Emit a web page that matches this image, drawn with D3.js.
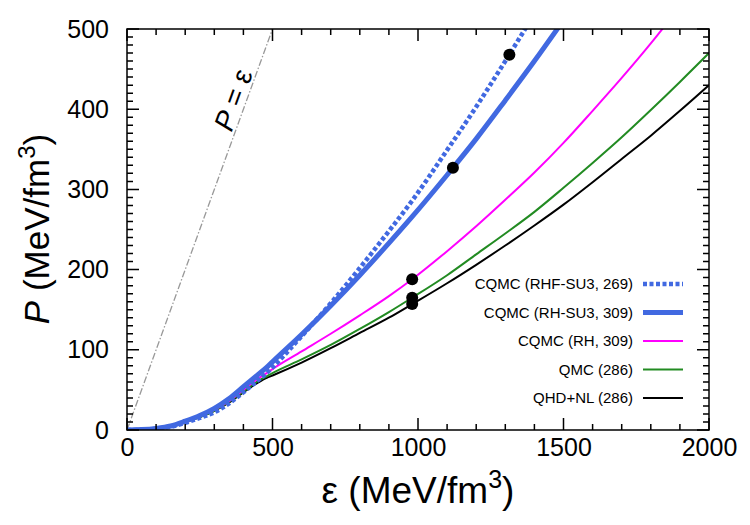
<!DOCTYPE html>
<html>
<head>
<meta charset="utf-8">
<script src="https://cdn.jsdelivr.net/npm/d3@7"></script>
<style>
  body { margin: 0; background: #fff; }
  text { font-family: "Liberation Sans", Arial, sans-serif; }
</style>
</head>
<body>
<div id="chart-area"></div>
<script>
// energy density grid (MeV/fm^3)
var eps = [0, 50, 100, 150, 200, 250, 300, 350, 400, 450, 480, 500, 600, 700, 800, 900, 980,
           1100, 1200, 1300, 1400, 1500, 1600, 1700, 1800, 1900, 2000];

// pressure (MeV/fm^3), one array per model
var pRHFSU3 = [0, 0.4, 1.5, 4, 9, 15, 22, 33, 47, 62, 71, 78, 117, 158, 202, 248, 286,
               349, 403, 460, 519, null, null, null, null, null, null];
var pRHSU3  = [0, 0.5, 2, 5, 11, 18, 27, 39, 54, 69, 78, 85, 119, 155, 193, 233, 266,
               318, 363, 411, 460, 511, null, null, null, null, null];
var pRH     = [0, 0.5, 2, 5, 10, 17, 25, 36, 50, 64, 71, 76, 98, 120, 143, 167, 188,
               223, 254, 287, 321, 358, 398, 439, 482, 528, null];
var pQMC    = [0, 0.5, 2, 5, 10, 16, 24, 35, 48, 61, 67, 71, 88, 106, 126, 147, 165,
               193, 219, 245, 272, 302, 333, 365, 399, 434, 470];
var pQHD    = [0, 0.5, 2, 5, 10, 16, 24, 34, 47, 59, 65, 68, 84, 102, 121, 140, 157,
               183, 206, 230, 255, 281, 309, 338, 367, 398, 430];

var seriesNames = ["CQMC (RHF-SU3, 269)", "CQMC (RH-SU3, 309)", "CQMC (RH, 309)", "QMC (286)", "QHD+NL (286)"];
var seriesColors = ["#4169e1", "#4169e1", "#ff00ff", "#228b22", "#000000"];
var seriesWidths = [4.5, 5, 2, 2, 2];
var seriesDash = ["4,2.5", null, null, null, null];
var seriesValues = [pRHFSU3, pRHSU3, pRH, pQMC, pQHD];

// marked points (eps, P)
var dotEps = [1314, 1120, 980, 980, 980];
var dotP   = [468, 327, 188, 165, 157];

var xMajor = [0, 500, 1000, 1500, 2000];
var yMajor = [0, 100, 200, 300, 400, 500];

var margin = { left: 127, right: 41, top: 29, bottom: 95 };
var width = 750 - margin.left - margin.right,
    height = 525 - margin.top - margin.bottom;

var svg = d3.select("#chart-area")
    .append("svg")
        .attr("width", 750)
        .attr("height", 525);

var g = svg.append("g")
    .attr("transform", "translate(" + margin.left + "," + margin.top + ")");

var x = d3.scaleLinear().domain([0, 2000]).range([0, width]);
var y = d3.scaleLinear().domain([0, 500]).range([height, 0]);

svg.append("defs").append("clipPath").attr("id", "plotclip")
  .append("rect").attr("width", width).attr("height", height);

// labelled axes (no tick lines, those are drawn separately)
var xAxisGroup = g.append("g").attr("class", "axis")
    .attr("transform", "translate(0," + height + ")")
    .call(d3.axisBottom(x).tickValues(xMajor).tickFormat(d3.format("d")).tickSize(0).tickPadding(8));
var yAxisGroup = g.append("g").attr("class", "axis")
    .call(d3.axisLeft(y).tickValues(yMajor).tickFormat(d3.format("d")).tickSize(0).tickPadding(18));

g.selectAll(".axis .domain").remove();
g.selectAll(".axis text")
    .attr("font-family", "Liberation Sans, Arial, sans-serif")
    .attr("font-size", "25px")
    .attr("fill", "#000");

// P = eps diagonal
g.append("line")
    .attr("x1", x(0)).attr("y1", y(0))
    .attr("x2", x(500)).attr("y2", y(500))
    .attr("stroke", "#999")
    .attr("stroke-width", 1.3)
    .attr("stroke-dasharray", "7,2,1.5,2");

var ang = Math.atan2(y(0) - y(500), x(500) - x(0)) * 180 / Math.PI;
var diagLabel = g.append("text")
    .attr("transform", "translate(" + (x(410) - 4) + "," + (y(410) + 2) + ") rotate(" + (-ang) + ")")
    .attr("text-anchor", "middle")
    .attr("font-size", "28px");
diagLabel.append("tspan").attr("font-style", "italic").text("P");
diagLabel.append("tspan").text(" = ε");

// curves
var line = d3.line()
    .defined(function(d){ return d[1] !== null; })
    .x(function(d){ return x(d[0]); })
    .y(function(d){ return y(d[1]); })
    .curve(d3.curveMonotoneX);

var curves = g.append("g").attr("clip-path", "url(#plotclip)");
// draw thin ones first, blue on top
[4, 3, 2, 1, 0].forEach(function(i) {
    var pts = eps.map(function(e, j){ return [e, seriesValues[i][j]]; });
    curves.append("path")
        .attr("d", line(pts))
        .attr("fill", "none")
        .attr("stroke", seriesColors[i])
        .attr("stroke-width", seriesWidths[i])
        .attr("stroke-dasharray", seriesDash[i]);
});

// dots
g.selectAll(".dot")
    .data(dotEps)
    .enter().append("circle")
        .attr("class", "dot")
        .attr("cx", function(d){ return x(d); })
        .attr("cy", function(d, i){ return y(dotP[i]); })
        .attr("r", 6)
        .attr("fill", "#000");

// frame
g.append("rect")
    .attr("width", width).attr("height", height)
    .attr("fill", "none").attr("stroke", "#000").attr("stroke-width", 1.5);

// tick marks, pointing inward on all four sides, as one path
var tickPath = d3.path();
d3.range(0, 2001, 100).forEach(function(v) {
    var L = (v % 500 === 0) ? 12 : 6;
    tickPath.moveTo(x(v), height); tickPath.lineTo(x(v), height - L);
    tickPath.moveTo(x(v), 0);      tickPath.lineTo(x(v), L);
});
d3.range(0, 501, 10).forEach(function(v) {
    var L = (v % 100 === 0) ? 12 : 6;
    tickPath.moveTo(0, y(v));     tickPath.lineTo(L, y(v));
    tickPath.moveTo(width, y(v)); tickPath.lineTo(width - L, y(v));
});
g.append("path")
    .attr("d", tickPath.toString())
    .attr("fill", "none")
    .attr("stroke", "#000")
    .attr("stroke-width", 1.5);

// legend
var legend = g.append("g")
    .attr("transform", "translate(" + (643 - margin.left) + "," + (284 - margin.top) + ")");
seriesNames.forEach(function(name, i) {
    var row = legend.append("g").attr("transform", "translate(0," + (i * 28.5) + ")");
    row.append("text")
        .attr("x", -10).attr("y", 0).attr("dy", "0.35em")
        .attr("text-anchor", "end")
        .attr("font-size", "15px")
        .text(name);
    row.append("line")
        .attr("x1", 0).attr("x2", 40)
        .attr("stroke", seriesColors[i])
        .attr("stroke-width", seriesWidths[i])
        .attr("stroke-dasharray", seriesDash[i]);
});

// X Label
var xLabel = svg.append("text")
    .attr("x", margin.left + width / 2)
    .attr("y", 503)
    .attr("text-anchor", "middle")
    .attr("font-size", "37px");
xLabel.append("tspan").text("ε (MeV/fm");
xLabel.append("tspan").attr("font-size", "25px").attr("dy", "-15").text("3");
xLabel.append("tspan").attr("dy", "15").text(")");

// Y Label
var yLabel = svg.append("text")
    .attr("transform", "translate(49," + 229 + ") rotate(-90)")
    .attr("text-anchor", "middle")
    .attr("font-size", "35px");
yLabel.append("tspan").attr("font-style", "italic").text("P");
yLabel.append("tspan").text(" (MeV/fm");
yLabel.append("tspan").attr("font-size", "24px").attr("dy", "-14").text("3");
yLabel.append("tspan").attr("dy", "14").text(")");
</script>
</body>
</html>
